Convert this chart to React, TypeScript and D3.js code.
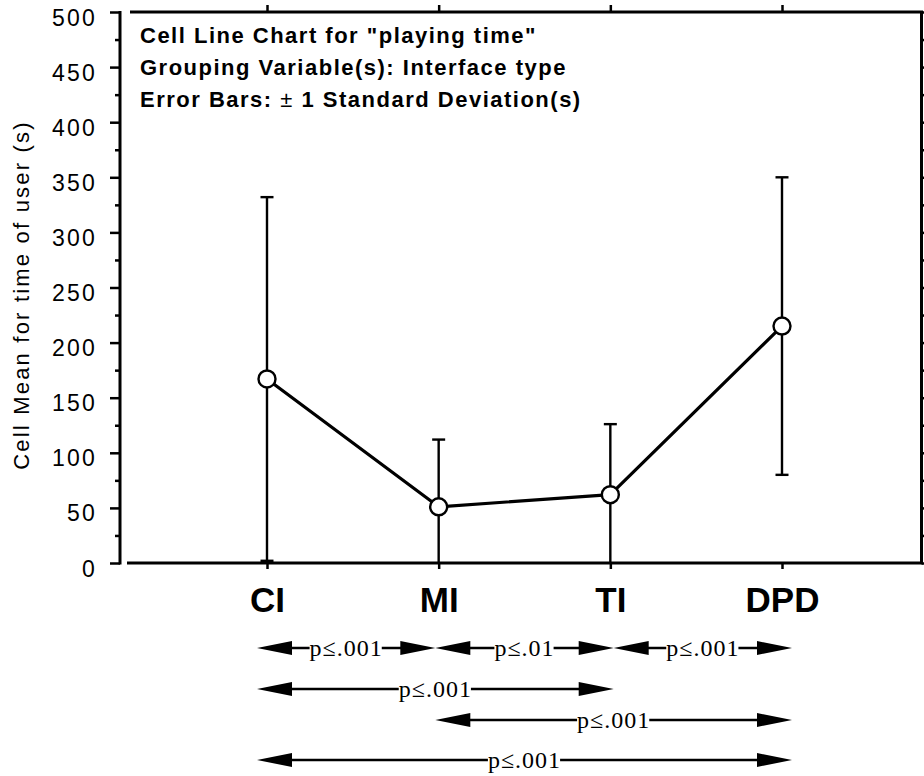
import React, { useEffect, useRef } from "react";
import * as d3 from "d3";

const WIDTH = 924;
const HEIGHT = 776;

// interface types and their cell means / standard deviations (s)
const categories = ["CI", "MI", "TI", "DPD"];
const means = [167, 51, 62, 215];
const sds = [165, 61, 64, 135];

const yTicks = [0, 50, 100, 150, 200, 250, 300, 350, 400, 450, 500];
const yMinorTicks = [25, 75, 125, 175, 225, 275, 325, 375, 425, 475];

const titleLines = [
  'Cell Line Chart for "playing time"',
  "Grouping Variable(s): Interface type",
  "Error Bars: ± 1 Standard Deviation(s)",
];

// pairwise comparisons drawn as arrows under the chart
const compFrom = ["CI", "MI", "TI", "CI", "MI", "CI"];
const compTo = ["MI", "TI", "DPD", "TI", "DPD", "DPD"];
const compLabels = ["p≤.001", "p≤.01", "p≤.001", "p≤.001", "p≤.001", "p≤.001"];
const compRow = [0, 0, 0, 1, 2, 3];

const SANS = '"Liberation Sans", Arial, Helvetica, sans-serif';
const SERIF = '"Liberation Serif", "Times New Roman", serif';

function App() {
  const svgRef = useRef(null);

  useEffect(() => {
    const svg = d3.select(svgRef.current);
    svg.selectAll("*").remove();

    const left = 120;
    const right = 921.5;
    const top = 12;
    const bottom = 563;

    const y = d3.scaleLinear().domain([0, 500]).range([bottom, top]);
    const x = d3.scalePoint().domain(categories).range([267, 782]);
    const xArrow = d3.scalePoint().domain(categories).range([257, 792]);
    const rowY = d3.scaleOrdinal().domain([0, 1, 2, 3]).range([648, 689, 720, 760]);

    const ink = "#000";

    // left axis (major + minor)
    const gLeft = svg.append("g").attr("transform", `translate(${left},0)`);
    gLeft.call(
      d3.axisLeft(y).tickValues(yTicks).tickSize(10).tickSizeOuter(0).tickPadding(13)
    );
    gLeft.select(".domain").attr("stroke-width", 3).attr("d", `M0,${top - 1}V${bottom + 1.5}`);
    gLeft.selectAll(".tick line").attr("stroke-width", 2.5);
    gLeft
      .selectAll(".tick text")
      .attr("dy", 0)
      .attr("y", 13)
      .attr("fill", ink)
      .style("font-family", SANS)
      .style("font-size", "23px")
      .style("letter-spacing", "2.2px");
    const gLeftMinor = svg.append("g").attr("transform", `translate(${left},0)`);
    gLeftMinor.call(d3.axisLeft(y).tickValues(yMinorTicks).tickSize(5).tickFormat(() => ""));
    gLeftMinor.select(".domain").remove();
    gLeftMinor.selectAll(".tick line").attr("stroke-width", 2.5);

    // right axis ticks
    const gRight = svg.append("g").attr("transform", `translate(${right},0)`);
    gRight.call(d3.axisRight(y).tickValues(yTicks).tickSize(10).tickFormat(() => ""));
    gRight.select(".domain").remove();
    gRight.selectAll(".tick line").attr("stroke-width", 2.5);
    const gRightMinor = svg.append("g").attr("transform", `translate(${right},0)`);
    gRightMinor.call(d3.axisRight(y).tickValues(yMinorTicks).tickSize(5).tickFormat(() => ""));
    gRightMinor.select(".domain").remove();
    gRightMinor.selectAll(".tick line").attr("stroke-width", 2.5);

    // frame
    svg
      .append("path")
      .attr("d", `M130,${top}H${right}V${bottom}H127`)
      .attr("fill", "none")
      .attr("stroke", ink)
      .attr("stroke-width", 3);

    // top ticks
    const gTop = svg.append("g").attr("transform", `translate(0,${top})`);
    gTop.call(d3.axisTop(x).tickSize(7).tickFormat(() => ""));
    gTop.select(".domain").remove();
    gTop.selectAll(".tick line").attr("stroke-width", 2.5);

    // bottom axis with category labels
    const gBottom = svg.append("g").attr("transform", `translate(0,${bottom})`);
    gBottom.call(d3.axisBottom(x).tickSize(6));
    gBottom.select(".domain").remove();
    gBottom.selectAll(".tick line").attr("stroke-width", 2.5);
    gBottom
      .selectAll(".tick text")
      .attr("dy", 0)
      .attr("y", 49)
      .attr("fill", ink)
      .style("font-family", SANS)
      .style("font-weight", "bold")
      .style("font-size", "35px");

    // y title
    svg
      .append("text")
      .attr("transform", "translate(29,295) rotate(-90)")
      .attr("text-anchor", "middle")
      .style("font-family", SANS)
      .style("font-size", "22px")
      .style("letter-spacing", "2.2px")
      .text("Cell Mean for time of user (s)");

    // title block
    const gTitle = svg.append("g");
    titleLines.forEach((line, i) => {
      const t = gTitle
        .append("text")
        .attr("x", 140)
        .attr("y", 43 + i * 32)
        .style("font-family", SANS)
        .style("font-weight", "bold")
        .style("font-size", "22px")
        .style("letter-spacing", "1.5px");
      const parts = line.split("±");
      t.append("tspan").text(parts[0]);
      if (parts.length > 1) {
        t.append("tspan").style("font-weight", "normal").text("±");
        t.append("tspan").text(parts[1]);
      }
    });

    // error bars
    const cap = 6.5;
    const gErr = svg.append("g").attr("stroke", ink).attr("stroke-width", 2.4);
    categories.forEach((c, i) => {
      const hi = means[i] + sds[i];
      const lo = Math.max(0, means[i] - sds[i]);
      gErr.append("line").attr("x1", x(c)).attr("x2", x(c)).attr("y1", y(hi)).attr("y2", y(lo));
      gErr.append("line").attr("x1", x(c) - cap).attr("x2", x(c) + cap).attr("y1", y(hi)).attr("y2", y(hi));
      if (means[i] - sds[i] >= 0) {
        gErr.append("line").attr("x1", x(c) - cap).attr("x2", x(c) + cap).attr("y1", y(lo)).attr("y2", y(lo));
      }
    });

    // mean line
    const line = d3
      .line()
      .x((d, i) => x(categories[i]))
      .y((d) => y(d));
    svg
      .append("path")
      .datum(means)
      .attr("d", line)
      .attr("fill", "none")
      .attr("stroke", ink)
      .attr("stroke-width", 3.2)
      .attr("stroke-linejoin", "round");

    svg
      .selectAll("circle.pt")
      .data(means)
      .enter()
      .append("circle")
      .attr("class", "pt")
      .attr("cx", (d, i) => x(categories[i]))
      .attr("cy", (d) => y(d))
      .attr("r", 8.5)
      .attr("fill", "#fff")
      .attr("stroke", ink)
      .attr("stroke-width", 2.4);

    // comparison arrows
    const headLen = 35;
    const headHalf = 7;
    const gComp = svg.append("g");
    compLabels.forEach((lab, i) => {
      const x1 = xArrow(compFrom[i]);
      const x2 = xArrow(compTo[i]);
      const yy = rowY(compRow[i]);
      const g = gComp.append("g");
      g.append("line")
        .attr("x1", x1 + headLen - 2)
        .attr("x2", x2 - headLen + 2)
        .attr("y1", yy)
        .attr("y2", yy)
        .attr("stroke", ink)
        .attr("stroke-width", 2.4);
      g.append("path")
        .attr("d", `M${x1},${yy}L${x1 + headLen},${yy - headHalf}V${yy + headHalf}Z`)
        .attr("fill", ink);
      g.append("path")
        .attr("d", `M${x2},${yy}L${x2 - headLen},${yy - headHalf}V${yy + headHalf}Z`)
        .attr("fill", ink);
      const t = g
        .append("text")
        .attr("x", (x1 + x2) / 2)
        .attr("y", yy + 8)
        .attr("text-anchor", "middle")
        .style("font-family", SERIF)
        .style("font-size", "24px")
        .style("letter-spacing", "1px")
        .text(lab);
      const bb = (t.node() as SVGTextElement).getBBox();
      g.insert("rect", "text")
        .attr("x", bb.x)
        .attr("y", yy - 3)
        .attr("width", bb.width - 1)
        .attr("height", 6)
        .attr("fill", "#fff");
    });
  }, []);

  return (
    <svg
      ref={svgRef}
      width={WIDTH}
      height={HEIGHT}
      style={{ position: "absolute", left: 0, top: 0, background: "#fff" }}
    ></svg>
  );
}

export default App;
